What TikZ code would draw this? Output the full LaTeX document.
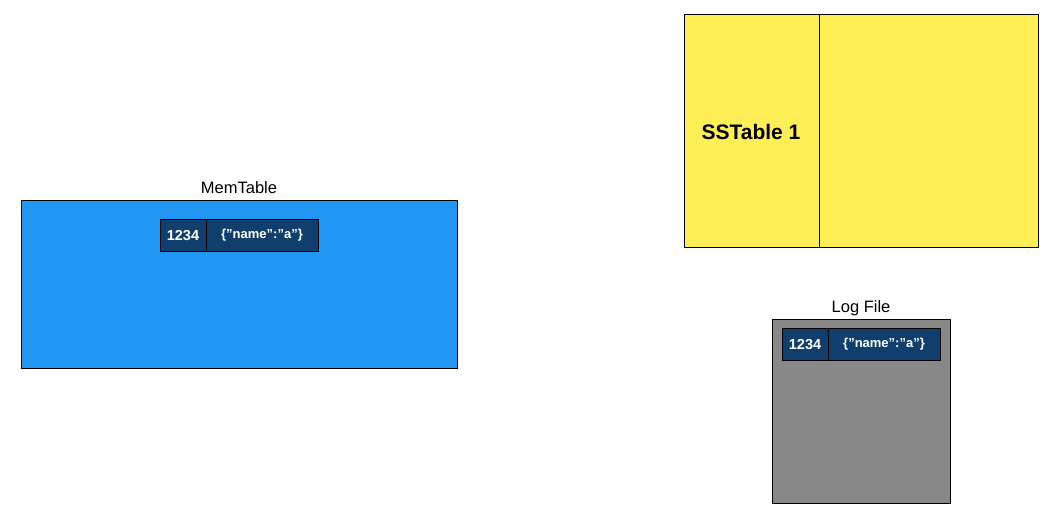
\documentclass[tikz,border=0pt]{standalone}
\usepackage{fontspec}
\setmainfont{Liberation Sans}
\newcommand{\qt}{\symbol{34}}

\begin{document}
\begin{tikzpicture}[x=1pt,y=1pt,yscale=-1,xscale=1]
\useasboundingbox (0,0) rectangle (1056,528);

%Shape: Rectangle [MemTable]
\draw [fill={rgb, 255:red, 33; green, 150; blue, 243 }  ][line width=0.8]  (21,200) -- (457,200) -- (457,368) -- (21,368) -- cycle ;
%Shape: Rectangle [MemTable key]
\draw [fill={rgb, 255:red, 16; green, 63; blue, 110 }  ][line width=0.8]  (160,219) -- (206,219) -- (206,251) -- (160,251) -- cycle ;
%Shape: Rectangle [MemTable value]
\draw [fill={rgb, 255:red, 16; green, 63; blue, 110 }  ][line width=0.8]  (206,219) -- (318,219) -- (318,251) -- (206,251) -- cycle ;

%Shape: Rectangle [SSTable]
\draw [fill={rgb, 255:red, 255; green, 239; blue, 87 }  ][line width=0.8]  (684,14) -- (1038,14) -- (1038,247) -- (684,247) -- cycle ;
%Straight Lines [SSTable divider]
\draw [line width=0.8]   (819,14) -- (819,247) ;

%Shape: Rectangle [Log File]
\draw [fill={rgb, 255:red, 136; green, 136; blue, 136 }  ][line width=0.8]  (772,319) -- (950,319) -- (950,503) -- (772,503) -- cycle ;
%Shape: Rectangle [Log key]
\draw [fill={rgb, 255:red, 16; green, 63; blue, 110 }  ][line width=0.8]  (782,328) -- (828,328) -- (828,360) -- (782,360) -- cycle ;
%Shape: Rectangle [Log value]
\draw [fill={rgb, 255:red, 16; green, 63; blue, 110 }  ][line width=0.8]  (828,328) -- (940,328) -- (940,360) -- (828,360) -- cycle ;

% Text Node
\node (memlabel) at (239,188) [inner sep=0.75pt]  [font=\fontsize{16.5}{19}\selectfont]  {MemTable};
% Text Node
\node (memkey) at (183,236) [inner sep=0.75pt]  [font=\fontsize{14.5}{17}\selectfont\bfseries, text=white]  {1234};
% Text Node
\node (memval) at (262,235) [inner sep=0.75pt]  [font=\fontsize{13}{15}\selectfont\bfseries, text=white]  {\{\qt name\qt:\qt a\qt\}};
% Text Node
\node (sslabel) at (751,132) [inner sep=0.75pt]  [font=\fontsize{21}{24}\selectfont\bfseries]  {SSTable 1};
% Text Node
\node (loglabel) at (861,308) [inner sep=0.75pt]  [font=\fontsize{16.5}{19}\selectfont]  {Log File};
% Text Node
\node (logkey) at (805,345) [inner sep=0.75pt]  [font=\fontsize{14.5}{17}\selectfont\bfseries, text=white]  {1234};
% Text Node
\node (logval) at (884,344) [inner sep=0.75pt]  [font=\fontsize{13}{15}\selectfont\bfseries, text=white]  {\{\qt name\qt:\qt a\qt\}};

\end{tikzpicture}
\end{document}
